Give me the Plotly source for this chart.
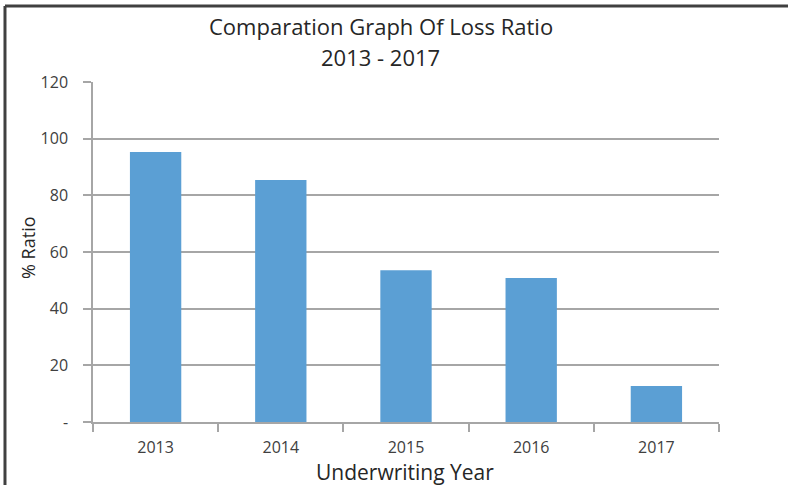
import plotly.graph_objects as go

years = ["2013", "2014", "2015", "2016", "2017"]
loss_ratio = [95.3, 85.4, 53.6, 50.8, 12.7]
y_ticks = [0, 20, 40, 60, 80, 100, 120]
y_labels = ["-", "20", "40", "60", "80", "100", "120"]

FONT = "Open Sans, DejaVu Sans, sans-serif"
TEXT = "#404040"
DARK = "#262626"
GRID = "#a6a6a6"

fig = go.Figure(
    go.Bar(
        x=years,
        y=loss_ratio,
        marker=dict(color="#5b9fd4", line=dict(width=0)),
    )
)

# outer frame of the chart picture (only left and top edges show)
fig.add_shape(
    type="line", xref="paper", yref="paper",
    x0=-0.1406, x1=-0.1406, y0=-0.3, y1=1.2235,
    line=dict(color="#404040", width=3),
)
fig.add_shape(
    type="line", xref="paper", yref="paper",
    x0=-0.1406, x1=1.2, y0=1.2235, y1=1.2235,
    line=dict(color="#404040", width=3),
)

# titles placed as annotations
fig.add_annotation(
    text="Comparation Graph Of Loss Ratio", xref="paper", yref="paper",
    x=0.46, y=1.1647, showarrow=False, yanchor="middle",
    font=dict(size=22, color=DARK),
)
fig.add_annotation(
    text="2013 - 2017", xref="paper", yref="paper",
    x=0.46, y=1.0735, showarrow=False, yanchor="middle",
    font=dict(size=22, color=DARK),
)
fig.add_annotation(
    text="Underwriting Year", xref="paper", yref="paper",
    x=0.498, y=-0.146, showarrow=False, yanchor="middle",
    font=dict(size=21, color=DARK),
)
fig.add_annotation(
    text="% Ratio", xref="paper", yref="paper",
    x=-0.1038, y=0.512, showarrow=False, textangle=-90,
    xanchor="center", yanchor="middle",
    font=dict(size=18, color=DARK),
)

fig.update_layout(
    width=788,
    height=485,
    margin=dict(l=93, r=69, t=82, b=63),
    paper_bgcolor="white",
    plot_bgcolor="white",
    showlegend=False,
    bargap=0.59,
    font=dict(family=FONT, color=TEXT),
    xaxis=dict(
        tickfont=dict(size=16, color=TEXT),
        showline=True, linecolor=GRID, linewidth=2,
        ticks="outside", tickson="boundaries", ticklen=8, tickcolor=GRID, tickwidth=1.5,
        ticklabelstandoff=10,
    ),
    yaxis=dict(
        range=[0, 120],
        tickvals=y_ticks,
        ticktext=y_labels,
        tickfont=dict(size=16, color=TEXT),
        showgrid=True, gridcolor=GRID, gridwidth=1.5,
        showline=True, linecolor=GRID, linewidth=1.5,
        ticks="outside", ticklen=8, tickcolor=GRID, tickwidth=1.5,
        ticklabelstandoff=12,
        zeroline=False,
    ),
)

fig.write_html(
    "out.html",
    config={"displayModeBar": False},
    post_script="document.body.style.margin='0';",
)
